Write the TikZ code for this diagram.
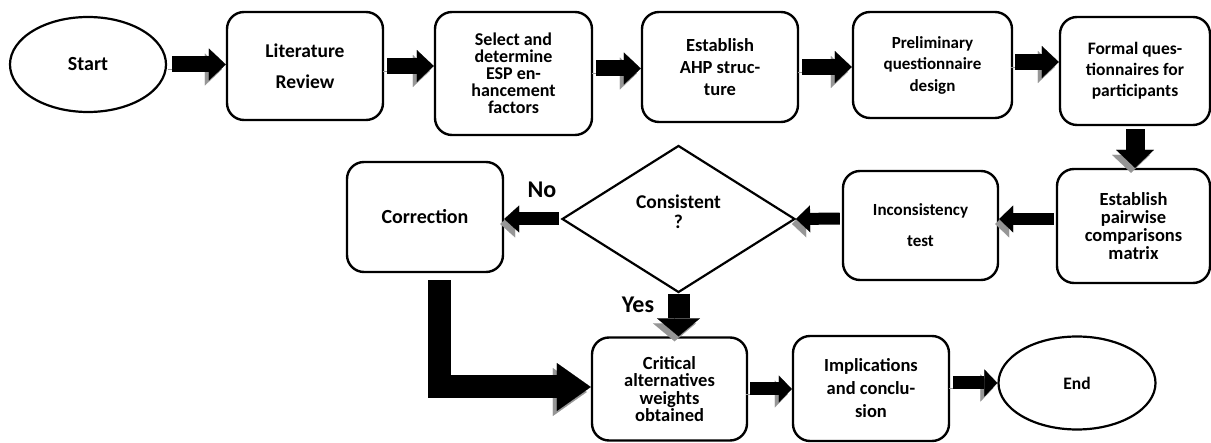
\documentclass[tikz,border=0pt]{standalone}
\usepackage{fontspec}
\setmainfont{Carlito}
\usetikzlibrary{shapes.geometric,arrows.meta}
\definecolor{shadowgray}{RGB}{150,150,150}
\newcommand\myfs[2]{\fontsize{#1}{#2}\selectfont\bfseries}
\tikzset{
  box/.style={draw, line width=2.4pt, rounded corners=17pt, align=center, inner sep=0pt},
  oval/.style={draw, ellipse, line width=2.2pt, align=center, inner sep=0pt},
  flow/.style n args={4}{line width=#1, -{Triangle[length=#3,width=#2,line width=0.1pt]},
     preaction={draw=shadowgray, -{Triangle[length=#3,width=#2,line width=0.1pt,color=shadowgray]}, transform canvas={xshift=-4pt,yshift=-5pt}}, shorten <=#4},
  lbl/.style={font=\myfs{24}{26}, inner sep=0pt}
}
\begin{document}
\begin{tikzpicture}[x=1pt,y=-1pt]
\useasboundingbox (0,0) rectangle (1211,443);
% top row
\node[oval, minimum width=156pt, minimum height=95pt, font=\myfs{20}{22}] (start) at (88,64.5) {Start};
\node[box, minimum width=156pt, minimum height=108pt, font=\myfs{19.5}{31}] (lit) at (305,66) {Literature\\Review};
\node[box, minimum width=157pt, minimum height=123pt, font=\myfs{18}{17}] (sel) at (513.5,73.5) {Select and\\determine\\ESP en-\\hancement\\factors};
\node[box, minimum width=156pt, minimum height=110pt, font=\myfs{18.5}{22}] (ahp) at (720,67) {Establish\\AHP struc-\\ture};
\node[box, minimum width=159pt, minimum height=106pt, font=\myfs{17}{21.5}] (pre) at (932.5,65) {Preliminary\\questionnaire\\design};
\node[box, minimum width=150pt, minimum height=108pt, font=\myfs{17.5}{21}] (form) at (1135,71) {Formal ques-\\tionnaires for\\participants};
% middle row
\node[box, minimum width=153pt, minimum height=114pt, font=\myfs{18.5}{18}] (pair) at (1133.5,226) {Establish\\pairwise\\comparisons\\matrix};
\node[box, minimum width=155pt, minimum height=109pt, font=\myfs{17}{31}] (inc) at (920.5,225.5) {Inconsistency\\test};
\node[draw, diamond, line width=2.2pt, minimum width=233pt, minimum height=147pt, inner sep=0pt] (dia) at (678.5,219) {};
\node[align=center, font=\myfs{19.5}{20}, inner sep=0pt] (diatext) at (678.5,212) {Consistent\\?};
\node[box, minimum width=156pt, minimum height=110pt, font=\myfs{20}{22}] (corr) at (425,217) {Correction};
% bottom row
\node[box, minimum width=155pt, minimum height=103pt, font=\myfs{18.5}{17.5}] (crit) at (669.5,389) {Critical\\alternatives\\weights\\obtained};
\node[box, minimum width=156pt, minimum height=105pt, font=\myfs{18.5}{23}] (impl) at (871,388.5) {Implications\\and conclu-\\sion};
\node[oval, minimum width=157pt, minimum height=93pt, font=\myfs{17.5}{20}] (end) at (1077,383) {End};
% labels
\node[lbl] (no) at (542,190) {No};
\node[lbl] (yes) at (638,305) {Yes};
% connectors
\draw[flow={16pt}{32pt}{17pt}{5pt}] (start.east) -- (start.east -| lit.west);
\draw[flow={16pt}{32pt}{17pt}{3pt}] (lit.east) -- (lit.east -| sel.west);
\draw[flow={16pt}{32pt}{17pt}{3pt}] ([yshift=5pt]sel.east) -- ([yshift=5pt]sel.east -| ahp.west);
\draw[flow={16pt}{32pt}{17pt}{3pt}] (ahp.east) -- (ahp.east -| pre.west);
\draw[flow={16pt}{32pt}{17pt}{2pt}] ([yshift=3pt]pre.east) -- ([yshift=3pt]pre.east -| form.west);
\draw[flow={19pt}{38pt}{18pt}{3pt}] (form.south) -- (form.south |- pair.north);
\draw[flow={12pt}{27pt}{14pt}{2pt}] ([yshift=7pt]pair.west) -- ([yshift=7pt]pair.west -| inc.east);
\draw[flow={12pt}{27pt}{14pt}{2pt}] ([yshift=7pt]inc.west) -- (dia.east);
\draw[flow={13pt}{27pt}{15pt}{2pt}] (dia.west) -- (dia.west -| corr.east);
\draw[flow={22pt}{43pt}{18pt}{0pt}] (dia.south) -- (dia.south |- crit.north);
\draw[flow={23pt}{48pt}{34pt}{7pt}] ([xshift=14pt]corr.south) |- ([yshift=2pt]crit.west);
\draw[flow={13pt}{27pt}{13pt}{2pt}] (crit.east) -- (crit.east -| impl.west);
\draw[flow={13pt}{27pt}{13pt}{3pt}] (impl.east |- end.west) -- (end.west);
\end{tikzpicture}
\end{document}
